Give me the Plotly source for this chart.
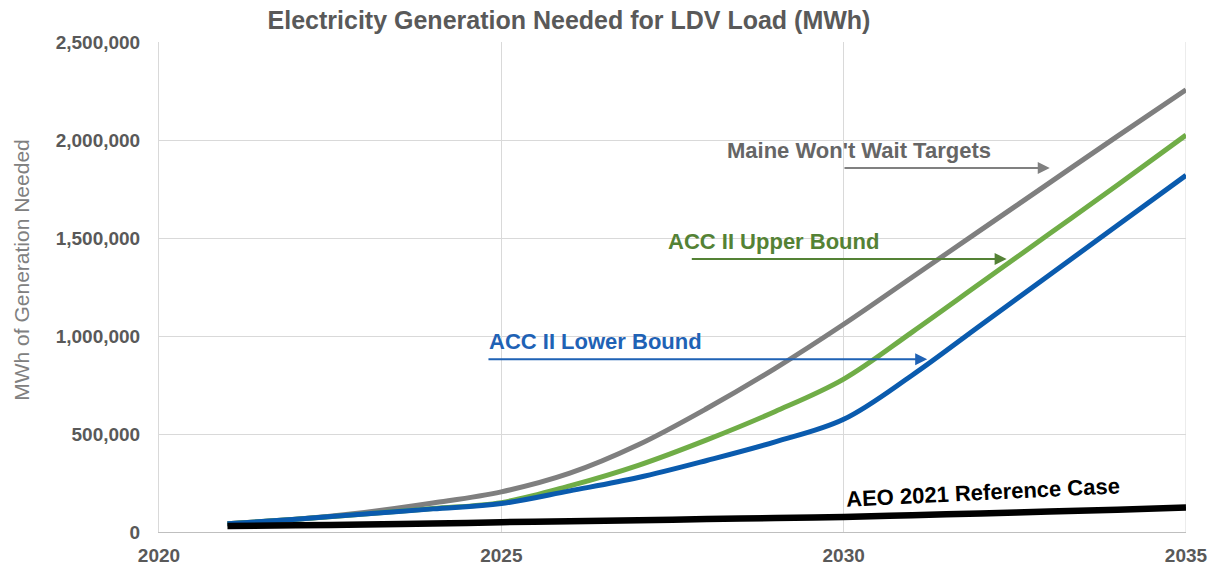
import plotly.graph_objects as go

years = list(range(2021, 2036))
maine_wont_wait = [42e3, 65e3, 100e3, 148e3, 205e3, 300e3, 445e3, 630e3, 835e3, 1060e3, 1300e3, 1540e3, 1780e3, 2020e3, 2256e3]
acc2_upper = [42e3, 65e3, 92e3, 120e3, 150e3, 235e3, 340e3, 470e3, 615e3, 780e3, 1020e3, 1270e3, 1520e3, 1770e3, 2025e3]
acc2_lower = [42e3, 65e3, 92e3, 118e3, 145e3, 210e3, 278e3, 365e3, 460e3, 575e3, 800e3, 1055e3, 1310e3, 1565e3, 1820e3]
aeo2021_ref = [30e3, 34e3, 38e3, 43e3, 50e3, 55e3, 60e3, 66e3, 71e3, 77e3, 86e3, 95e3, 104e3, 114e3, 125e3]

x_ticks = [2020, 2025, 2030, 2035]
y_ticks = [0, 500000, 1000000, 1500000, 2000000, 2500000]
y_tick_text = ["0", "500,000", "1,000,000", "1,500,000", "2,000,000", "2,500,000"]

GRAY = "#7F7F7F"
GREEN = "#70AD47"
BLUE = "#0A5BAE"
BLACK = "#000000"
FONT = "Liberation Sans, Arial, sans-serif"

fig = go.Figure()
series = [
    ("Maine Won't Wait Targets", maine_wont_wait, GRAY, 5),
    ("ACC II Upper Bound", acc2_upper, GREEN, 5),
    ("ACC II Lower Bound", acc2_lower, BLUE, 5),
    ("AEO 2021 Reference Case", aeo2021_ref, BLACK, 6.5),
]
for name, vals, col, w in series:
    fig.add_trace(go.Scatter(x=years, y=vals, mode="lines", name=name,
                             line=dict(color=col, width=w, shape="spline", smoothing=1.0)))

# Label texts (centres in data units)
labels = [
    ("Maine Won't Wait Targets", 2030.22, 1949000, "#666666", 0),
    ("ACC II Upper Bound", 2028.97, 1480000, "#548235", 0),
    ("ACC II Lower Bound", 2026.37, 973000, "#1F62B5", 0),
    ("AEO 2021 Reference Case", 2032.03, 203000, "#000000", -2.8),
]
for txt, x, y, col, ang in labels:
    fig.add_annotation(x=x, y=y, xref="x", yref="y", text="<b>%s</b>" % txt,
                       showarrow=False, textangle=ang,
                       font=dict(family=FONT, size=22, color=col))

arrows = [
    (2029.99, 2033.01, 1857000, "#808080"),
    (2027.76, 2032.38, 1393000, "#548235"),
    (2024.79, 2031.22, 882000, "#1F62B5"),
]
for x0, x1, y, col in arrows:
    fig.add_annotation(x=x1, y=y, ax=x0, ay=y, xref="x", yref="y", axref="x", ayref="y",
                       text="", showarrow=True, arrowhead=2, arrowsize=1.2, arrowwidth=2,
                       arrowcolor=col, standoff=0, startstandoff=0)

# y-axis title
fig.add_annotation(x=-0.134, y=0.534, xref="paper", yref="paper", text="MWh of Generation Needed",
                   showarrow=False, textangle=-90, xanchor="center", yanchor="middle",
                   font=dict(family=FONT, size=21, color="#808080"))

fig.update_layout(
    width=1214, height=567,
    margin=dict(l=159, r=28, t=42, b=35, autoexpand=False),
    paper_bgcolor="white", plot_bgcolor="white",
    showlegend=False,
    title=dict(text="<b>Electricity Generation Needed for LDV Load (MWh)</b>",
               x=0.4687, xanchor="center", xref="container",
               y=1 - 20 / 567, yanchor="middle", yref="container",
               font=dict(family=FONT, size=25, color="#595959")),
    font=dict(family=FONT),
)
fig.update_xaxes(range=[2020, 2035], tickvals=x_ticks, ticktext=[str(v) for v in x_ticks],
                 showgrid=True, gridcolor="#D9D9D9", gridwidth=1, automargin=False,
                 showline=True, linecolor="#BFBFBF", linewidth=1, mirror=False,
                 zeroline=False, ticks="", ticklabelstandoff=6,
                 tickfont=dict(family=FONT, size=19, color="#595959", weight="bold"))
fig.update_yaxes(range=[0, 2500000], tickvals=y_ticks, ticktext=y_tick_text,
                 showgrid=True, gridcolor="#D9D9D9", gridwidth=1, automargin=False,
                 showline=True, linecolor="#D9D9D9", linewidth=1,
                 zeroline=False, ticks="", ticklabelstandoff=14,
                 tickfont=dict(family=FONT, size=19, color="#595959", weight="bold"))
# right border line at 2035
fig.add_shape(type="line", xref="x", yref="paper", x0=2035, x1=2035, y0=0, y1=1,
              line=dict(color="#D9D9D9", width=1), layer="below")

fig.write_html("out.html", config={"displayModeBar": False},
               post_script="document.body.style.margin='0';document.body.style.padding='0';")
